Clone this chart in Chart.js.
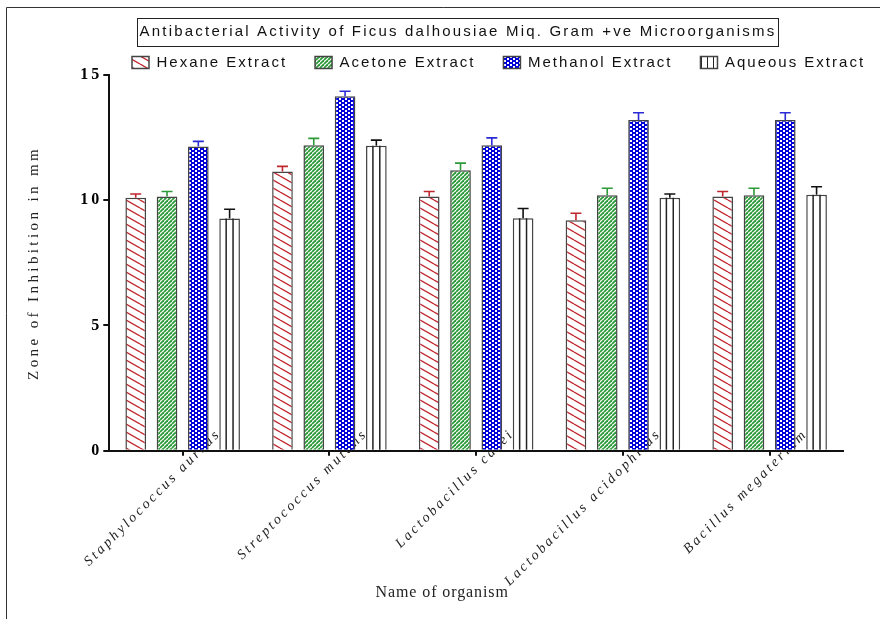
<!DOCTYPE html>
<html>
<head>
<meta charset="utf-8">
<script src="https://cdn.jsdelivr.net/npm/chart.js@4/dist/chart.umd.min.js"></script>
<style>
  body { margin: 0; background: #fff; }
</style>
</head>
<body>
<canvas id="zoneChart" width="880" height="619"></canvas>
<script>
// data (zone of inhibition, mm)
var organisms = ["Staphylococcus aureus", "Streptococcus mutans", "Lactobacillus casei", "Lactobacillus acidophilus", "Bacillus megaterium"];
var hexane   = [10.1, 11.15, 10.15, 9.2, 10.15];
var acetone  = [10.15, 12.2, 11.2, 10.2, 10.2];
var methanol = [12.15, 14.15, 12.2, 13.2, 13.2];
var aqueous  = [9.27, 12.18, 9.28, 10.1, 10.22];
// upper error bars
var hexaneErr   = [0.15, 0.2, 0.2, 0.28, 0.2];
var acetoneErr  = [0.2, 0.27, 0.28, 0.28, 0.28];
var methanolErr = [0.2, 0.2, 0.29, 0.29, 0.29];
var aqueousErr  = [0.37, 0.22, 0.39, 0.15, 0.32];
var yTicks = [0, 5, 10, 15];

var canvas = document.getElementById("zoneChart");
var ctx = canvas.getContext("2d");

function makePattern(w, h, paint) {
  var c = document.createElement("canvas");
  c.width = w; c.height = h;
  paint(c.getContext("2d"), w, h);
  return ctx.createPattern(c, "repeat");
}

var hexanePattern = makePattern(14, 8, function (g, w, h) {
  g.fillStyle = "#fff"; g.fillRect(0, 0, w, h);
  g.strokeStyle = "#c0262e"; g.lineWidth = 1.3;
  for (var k = -1; k <= 1; k++) {
    g.beginPath(); g.moveTo(0, k * h); g.lineTo(w, (k + 1) * h); g.stroke();
  }
});
var acetonePattern = makePattern(4, 4, function (g, w, h) {
  g.fillStyle = "#fff"; g.fillRect(0, 0, w, h);
  g.strokeStyle = "#2c9a38"; g.lineWidth = 1.8;
  for (var k = -1; k <= 1; k++) {
    g.beginPath(); g.moveTo(0, (k + 1) * h); g.lineTo(w, k * h); g.stroke();
  }
});
var methanolPattern = makePattern(6, 4, function (g, w, h) {
  g.fillStyle = "#0000d8"; g.fillRect(0, 0, w, h);
  g.fillStyle = "#fff";
  g.fillRect(0, 0, 2, 2);
  g.fillRect(3, 2, 2, 2);
});
var aqueousLegendPattern = makePattern(6, 2, function (g, w, h) {
  g.fillStyle = "#fff"; g.fillRect(0, 0, w, h);
  g.fillStyle = "#222"; g.fillRect(5, 0, 1, h);
});

var errors = [hexaneErr, acetoneErr, methanolErr, aqueousErr];
var errColors = ["#c0262e", "#2c9a38", "#2b2bd6", "#111"];

// letter spacing per text block (the original uses spaced-out text)
function spaced(obj, name, px, dx) {
  var orig = obj[name];
  obj[name] = function () {
    var c = this.ctx || this.chart.ctx;
    c.letterSpacing = px + "px";
    if (dx) { c.save(); c.translate(dx, 0); }
    var r = orig.apply(this, arguments);
    if (dx) c.restore();
    c.letterSpacing = "0px";
    return r;
  };
}

var textSpacing = {
  id: "textSpacing",
  beforeLayout: function (chart) {
    if (chart._spacedDone) return;
    chart._spacedDone = true;
    spaced(chart.titleBlock, "draw", 2.2);
    spaced(chart.legend, "fit", 2.0);
    spaced(chart.legend, "draw", 2.0);
    spaced(chart.scales.x, "update", 2.8);
    spaced(chart.scales.x, "drawLabels", 2.8);
    spaced(chart.scales.x, "drawTitle", 0.9, -34);
    spaced(chart.scales.y, "update", 3);
    spaced(chart.scales.y, "drawLabels", 3);
    spaced(chart.scales.y, "drawTitle", 3.4);
    // the category names run up past the axis line, over the bars
    chart.scales.x._computeLabelArea = function () { return undefined; };
  },
  afterLayout: function (chart) {
    chart.titleBlock.left = 36;
    chart.titleBlock.right = 880;
    chart.legend.left = 104;
    chart.legend.right = 900;
    chart.legend.top = 27;
    chart.legend.bottom = 82;
  }
};

var frameAndBox = {
  id: "frameAndBox",
  beforeDraw: function (chart) {
    var c = chart.ctx;
    c.save();
    c.strokeStyle = "#333";
    c.lineWidth = 1;
    c.beginPath();
    c.moveTo(6.5, 619); c.lineTo(6.5, 7.5); c.lineTo(880, 7.5);
    c.stroke();
    c.restore();
  },
  afterDraw: function (chart) {
    var t = chart.titleBlock;
    var c = chart.ctx;
    c.save();
    c.font = "15px 'Liberation Sans'";
    c.letterSpacing = "2.2px";
    var w = c.measureText(chart.options.plugins.title.text).width;
    c.letterSpacing = "0px";
    var cx = (t.left + t.right) / 2;
    c.strokeStyle = "#222";
    c.lineWidth = 1;
    c.strokeRect(Math.round(cx - w / 2 - 3) + 0.5, Math.round(t.top) + 0.5, Math.round(w + 4), Math.round(t.bottom - t.top));
    c.restore();
  }
};

var barExtras = {
  id: "barExtras",
  afterDatasetsDraw: function (chart) {
    var c = chart.ctx;
    var yScale = chart.scales.y;
    c.save();
    // vertical lines inside the aqueous bars
    chart.getDatasetMeta(3).data.forEach(function (bar) {
      var left = bar.x - bar.width / 2;
      c.strokeStyle = "#222";
      c.lineWidth = 1.5;
      [1, 2].forEach(function (k) {
        var x = left + bar.width * k / 3;
        c.beginPath(); c.moveTo(x, bar.y); c.lineTo(x, bar.base); c.stroke();
      });
    });
    // upper error bars
    chart.data.datasets.forEach(function (ds, i) {
      chart.getDatasetMeta(i).data.forEach(function (bar, j) {
        var yTop = yScale.getPixelForValue(ds.data[j] + errors[i][j]);
        c.strokeStyle = errColors[i];
        c.lineWidth = 1.6;
        c.beginPath();
        c.moveTo(bar.x, bar.y); c.lineTo(bar.x, yTop);
        c.moveTo(bar.x - 5.5, yTop); c.lineTo(bar.x + 5.5, yTop);
        c.stroke();
      });
    });
    c.restore();
  }
};

var zoneConfig = {
  type: "bar",
  data: {
    labels: organisms,
    datasets: [
      { label: "Hexane Extract", data: hexane, backgroundColor: hexanePattern, borderColor: "#444", borderWidth: 1.5 },
      { label: "Acetone Extract", data: acetone, backgroundColor: acetonePattern, borderColor: "#444", borderWidth: 1.5 },
      { label: "Methanol Extract", data: methanol, backgroundColor: methanolPattern, borderColor: "#444", borderWidth: 1.5 },
      { label: "Aqueous Extract", data: aqueous, backgroundColor: "#fff", borderColor: "#444", borderWidth: 1.5 }
    ]
  },
  options: {
    responsive: false,
    animation: false,
    layout: { padding: { top: 18, left: 0, right: 37, bottom: 10 }, autoPadding: false },
    datasets: { bar: { categoryPercentage: 0.853, barPercentage: 0.66 } },
    plugins: {
      title: {
        display: true,
        text: "Antibacterial Activity of Ficus dalhousiae Miq. Gram +ve Microorganisms",
        color: "#111",
        font: { family: "'Liberation Sans'", size: 15, weight: "normal" },
        padding: { top: 5, bottom: 5 }
      },
      legend: {
        position: "top",
        align: "start",
        maxHeight: 29,
        labels: {
          boxWidth: 17,
          boxHeight: 12,
          padding: 28,
          color: "#111",
          font: { family: "'Liberation Sans'", size: 15 },
          generateLabels: function (chart) {
            var items = Chart.defaults.plugins.legend.labels.generateLabels(chart);
            items[3].fillStyle = aqueousLegendPattern;
            return items;
          }
        }
      },
      tooltip: { enabled: false }
    },
    scales: {
      x: {
        z: 1,
        grid: { display: true, drawOnChartArea: false, offset: false, tickLength: 5, lineWidth: 2, color: "#111" },
        border: { color: "#111", width: 2 },
        ticks: {
          autoSkip: false, minRotation: 45, maxRotation: 45,
          labelOffset: 36, padding: -30,
          color: "#222",
          font: { family: "'Liberation Serif'", size: 14, style: "italic" }
        },
        title: {
          display: true, text: "Name of organism", color: "#222",
          font: { family: "'Liberation Serif'", size: 16 },
          padding: { top: 0, bottom: 7 }
        },
        afterFit: function (s) { s.height = 158.3; }
      },
      y: {
        min: 0, max: 15,
        afterBuildTicks: function (s) { s.ticks = yTicks.map(function (v) { return { value: v }; }); },
        grid: { drawOnChartArea: false, tickLength: 6, lineWidth: 2, color: "#111" },
        border: { color: "#111", width: 2 },
        ticks: { padding: 1, color: "#000", font: { family: "'Liberation Serif'", size: 16, weight: "bold" } },
        title: {
          display: true, text: "Zone of Inhibition in mm", color: "#222",
          font: { family: "'Liberation Serif'", size: 15 },
          padding: { top: 25, bottom: 0 }
        },
        afterFit: function (s) { s.width = 109.3; }
      }
    }
  },
  plugins: [textSpacing, frameAndBox, barExtras]
};

var zoneChart = new Chart(canvas, zoneConfig);
</script>
</body>
</html>
